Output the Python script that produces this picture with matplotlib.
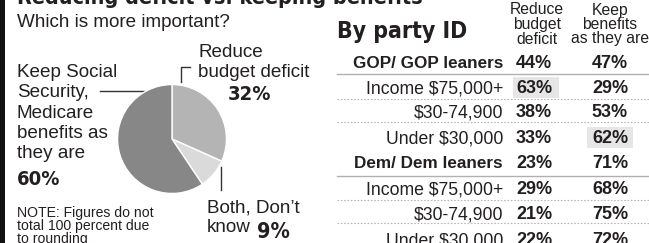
import matplotlib
matplotlib.use("Agg")
import matplotlib.pyplot as plt
from matplotlib import font_manager
from matplotlib.font_manager import FontProperties
from matplotlib.patches import Rectangle

# --- data ---
pie_names = ["Reduce budget deficit", "Both, Don't know",
             "Keep Social Security, Medicare benefits as they are"]
pie_values = [32, 9, 60]
pie_colors = ["#b4b4b4", "#dadada", "#878787"]

col_headers = ["Reduce\nbudget\ndeficit", "Keep\nbenefits\nas they are"]
row_labels = ["GOP/ GOP leaners", "Income $75,000+", "$30-74,900", "Under $30,000",
              "Dem/ Dem leaners", "Income $75,000+", "$30-74,900", "Under $30,000"]
row_bold = [True, False, False, False, True, False, False, False]
reduce_vals = [44, 63, 38, 33, 23, 29, 21, 22]
keep_vals = [47, 29, 53, 62, 71, 68, 75, 72]
highlight = [(1, 0), (3, 1)]  # (row, column) with grey box

names = {f.name for f in font_manager.fontManager.ttflist}
REG = "Liberation Sans" if "Liberation Sans" in names else "DejaVu Sans"


def condensed_bold():
    # look for a narrow/condensed bold face among installed fonts
    best = None
    for f in font_manager.fontManager.ttflist:
        tag = (f.name + " " + f.fname).lower()
        w = f.weight
        bold = (isinstance(w, int) and w >= 600) or str(w).lower() in ("bold", "heavy", "black")
        if bold and ("narrow" in tag or "condensed" in tag) and "oblique" not in tag and "italic" not in tag:
            if "liberation" in tag:
                return f.fname, True
            best = best or f.fname
    if best:
        return best, True
    return None, False


NAR_FILE, HAVE_NAR = condensed_bold()


def nar(size):
    if HAVE_NAR:
        return dict(fontproperties=FontProperties(fname=NAR_FILE, size=size))
    return dict(family=REG, weight="bold", fontsize=size * 0.88)


INK = "#231f20"

W, H = 649, 243
fig = plt.figure(figsize=(W / 100, H / 100), dpi=100)
ax = fig.add_axes([0, 0, 1, 1])
ax.set_xlim(0, W)
ax.set_ylim(H, 0)
ax.axis("off")

# black bar on the left
ax.add_patch(Rectangle((0, 0), 4.5, H, color="#111111", lw=0))

# clipped title and subtitle
ax.text(17, 4, "Reducing deficit vs. keeping benefits", color=INK, va="baseline", **nar(15.5))
ax.text(17, 27, "Which is more important?", family=REG, fontsize=13.6, color=INK, va="baseline")

# --- pie ---
cx, cy, r = 172, 139, 55
pax = fig.add_axes([(cx - r) / W, (H - cy - r) / H, 2 * r / W, 2 * r / H])
pax.pie(pie_values, colors=pie_colors, startangle=90, counterclock=False,
        wedgeprops=dict(edgecolor="white", linewidth=1))
pax.set_xlim(-1.01, 1.01)
pax.set_ylim(-1.01, 1.01)
pax.set_aspect("equal")
pax.axis("off")

lab = dict(family=REG, fontsize=13.6, color=INK, va="baseline")

ax.text(198, 57, "Reduce", **lab)
ax.text(198, 77, "budget deficit", **lab)
ax.text(228, 100, f"{pie_values[0]}%", color=INK, va="baseline", **nar(14.5))
ax.plot([190, 181, 181], [67, 67, 82], color="#333333", lw=1)

for i, line in enumerate(["Keep Social", "Security,", "Medicare", "benefits as", "they are"]):
    ax.text(17, 77 + i * 20.3, line, **lab)
ax.text(17, 185, f"{pie_values[2]}%", color=INK, va="baseline", **nar(14.5))
ax.plot([100, 144], [91, 91], color="#333333", lw=1)

ax.text(207, 212, "Both, Don\u2019t", **lab)
ax.text(207, 232, "know", **lab)
ax.text(257, 238, f"{pie_values[1]}%", color=INK, va="baseline", **nar(15.5))
ax.plot([220.5, 220.5], [167, 190], color="#333333", lw=1)

for i, line in enumerate(["NOTE: Figures do not", "total 100 percent due", "to rounding"]):
    ax.text(17, 217 + i * 13, line, family=REG, fontsize=10.1, color=INK, va="baseline")

# --- table ---
ax.text(337, 38, "By party ID", color=INK, va="baseline", **nar(16.5))
col_x = [535, 610]
for x, head in zip(col_x, col_headers):
    for j, line in enumerate(head.split("\n")):
        ax.text(x + (2 if x == 535 else 0), 14.5 + j * 14.5, line, family=REG, fontsize=11.3,
                color=INK, ha="center", va="baseline")

row_base = [68, 93, 117, 143, 168, 194, 219, 245]
for (ri, ci) in highlight:
    x0 = [513, 587][ci]
    ax.add_patch(Rectangle((x0, row_base[ri] - 16), 46, 21, color="#e6e6e6", lw=0))

for i, label in enumerate(row_labels):
    y = row_base[i]
    ax.text(503, y, label, family=REG, fontsize=12.3 if row_bold[i] else 12.7,
            weight="bold" if row_bold[i] else "normal", color=INK, ha="right", va="baseline")
    ax.text(col_x[0] - 1, y, f"{reduce_vals[i]}%", family=REG, weight="bold", fontsize=13,
            color=INK, ha="center", va="baseline")
    ax.text(col_x[1], y, f"{keep_vals[i]}%", family=REG, weight="bold", fontsize=13,
            color=INK, ha="center", va="baseline")

for y in [74, 176]:
    ax.plot([337, W], [y, y], color="#b0b0b0", lw=1)
for y in [98.5, 122, 200, 223]:
    ax.plot([337, W], [y, y], color="#b8b8b8", lw=0.8, dashes=(1.5, 1.5))

fig.savefig("out.png", dpi=100)
